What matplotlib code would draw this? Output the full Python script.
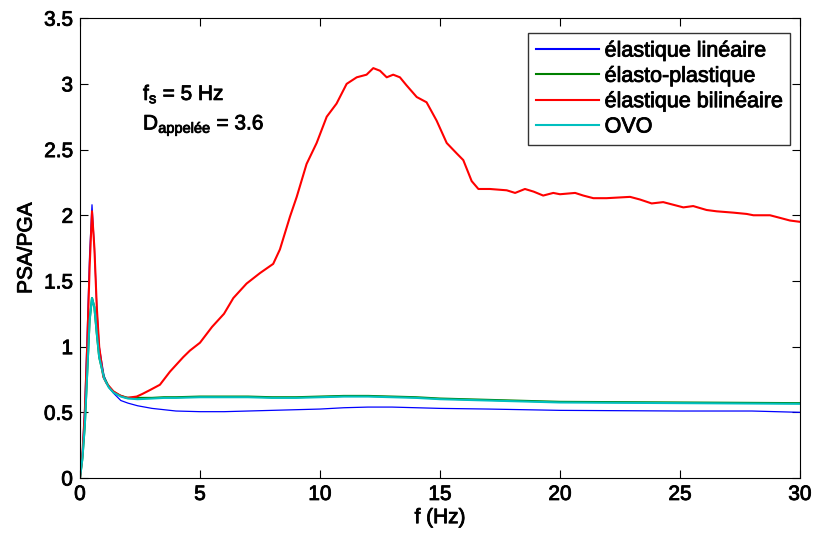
import matplotlib
matplotlib.use("Agg")
import matplotlib.pyplot as plt
import matplotlib.patheffects as pe

plt.rcParams['font.family'] = ['Liberation Sans', 'DejaVu Sans']
plt.rcParams['mathtext.fontset'] = 'custom'
plt.rcParams['mathtext.rm'] = 'Liberation Sans'
plt.rcParams['mathtext.it'] = 'Liberation Sans'

# frequencies (Hz)
f_blue = [0, 0.1, 0.2, 0.3, 0.4, 0.5, 0.6, 0.7, 0.8, 1.0, 1.2, 1.4, 1.7, 2.0, 2.4, 3.0, 3.5, 4, 5, 6, 7, 8, 9, 10, 11, 12, 13, 14, 15, 17, 20, 25, 28, 30]
psa_blue = [0, 0.2, 0.55, 1.1, 1.7, 2.08, 1.75, 1.3, 1.0, 0.78, 0.69, 0.645, 0.59, 0.57, 0.55, 0.53, 0.52, 0.51, 0.505, 0.505, 0.51, 0.515, 0.52, 0.525, 0.535, 0.54, 0.54, 0.535, 0.53, 0.525, 0.515, 0.51, 0.51, 0.50]

f_ovo = [0, 0.1, 0.2, 0.3, 0.4, 0.5, 0.6, 0.7, 0.8, 1.0, 1.2, 1.4, 1.7, 2.0, 2.4, 3.0, 3.5, 4, 5, 6, 7, 8, 9, 10, 11, 12, 13, 14, 15, 17, 20, 25, 30]
psa_ovo = [0, 0.15, 0.4, 0.8, 1.2, 1.37, 1.3, 1.1, 0.92, 0.76, 0.69, 0.65, 0.62, 0.605, 0.6, 0.605, 0.61, 0.61, 0.615, 0.615, 0.615, 0.61, 0.61, 0.615, 0.62, 0.62, 0.615, 0.61, 0.6, 0.59, 0.575, 0.57, 0.565]
psa_green = [0, 0.15, 0.4, 0.8, 1.2, 1.37, 1.3, 1.1, 0.92, 0.765, 0.695, 0.655, 0.625, 0.61, 0.61, 0.61, 0.615, 0.615, 0.62, 0.62, 0.62, 0.615, 0.615, 0.62, 0.625, 0.625, 0.62, 0.615, 0.605, 0.595, 0.58, 0.575, 0.57]

f_red = [0, 0.1, 0.2, 0.3, 0.4, 0.5, 0.6, 0.7, 0.8, 0.97, 1.11, 1.39, 1.65, 1.94, 2.36, 2.6, 2.92, 3.33, 3.75, 4.3, 4.58, 5.0, 5.5, 6.0, 6.39, 6.94, 7.5, 8.05, 8.33, 8.75, 9.03, 9.44, 9.86, 10.28, 10.69, 11.11, 11.53, 11.94, 12.22, 12.5, 12.78, 13.05, 13.33, 13.6, 14.03, 14.44, 14.86, 15.28, 15.7, 15.97, 16.32, 16.6, 17.08, 17.78, 18.13, 18.54, 18.9, 19.3, 19.72, 20.0, 20.63, 20.97, 21.39, 21.94, 22.92, 23.33, 23.82, 24.3, 24.72, 25.14, 25.55, 26.11, 26.53, 27.22, 27.78, 28.06, 28.75, 29.17, 29.58, 30.0]
psa_red = [0, 0.18, 0.5, 1.0, 1.6, 2.03, 1.75, 1.3, 1.0, 0.77, 0.72, 0.66, 0.63, 0.61, 0.62, 0.64, 0.67, 0.71, 0.81, 0.92, 0.97, 1.03, 1.15, 1.25, 1.37, 1.48, 1.56, 1.63, 1.74, 1.99, 2.14, 2.39, 2.55, 2.75, 2.85, 3.0, 3.05, 3.07, 3.12, 3.1, 3.05, 3.07, 3.05, 2.99, 2.9, 2.86, 2.72, 2.55, 2.47, 2.42, 2.26, 2.2, 2.2, 2.19, 2.17, 2.2, 2.18, 2.15, 2.17, 2.16, 2.17, 2.15, 2.13, 2.13, 2.14, 2.12, 2.09, 2.10, 2.08, 2.06, 2.07, 2.04, 2.03, 2.02, 2.01, 2.0, 2.0, 1.98, 1.96, 1.95]

labels = ['élastique linéaire', 'élasto-plastique', 'élastique bilinéaire', 'OVO']

FS = 15
thick = [pe.withStroke(linewidth=0.6, foreground='black')]

fig = plt.figure(figsize=(8.13, 5.35), dpi=100)
ax = fig.add_axes([0.0984, 0.1065, 0.8856, 0.8595])

ax.plot(f_blue, psa_blue, color='#0000ff', lw=0.9, label=labels[0])
ax.plot(f_ovo, psa_green, color='#008000', lw=1.5, label=labels[1])
ax.plot(f_red, psa_red, color='#ff0000', lw=1.5, label=labels[2])
ax.plot(f_ovo, psa_ovo, color='#00bfbf', lw=1.5, label=labels[3])

ax.set_xlim(0, 30)
ax.set_ylim(0, 3.5)
ax.set_xticks([0, 5, 10, 15, 20, 25, 30])
ax.set_yticks([0, 0.5, 1, 1.5, 2, 2.5, 3, 3.5])
ax.set_yticklabels(['0', '0.5', '1', '1.5', '2', '2.5', '3', '3.5'])
ax.tick_params(direction='in', top=True, right=True, labelsize=FS, length=6, pad=5)
for s in ax.spines.values():
    s.set_linewidth(0.8)
ax.set_xlabel('f (Hz)', fontsize=FS, labelpad=3)
ax.set_ylabel('PSA/PGA', fontsize=FS, labelpad=6)

ax.text(0.0875, 0.822, r'$\mathregular{f_s}$ = 5 Hz', transform=ax.transAxes,
        fontsize=FS, va='baseline')
ax.text(0.0875, 0.758, r'$\mathregular{D_{appelée}}$ = 3.6', transform=ax.transAxes,
        fontsize=FS, va='baseline')

leg = ax.legend(loc='upper right', bbox_to_anchor=(790 / 813, 1 - 33 / 535),
                bbox_transform=fig.transFigure, borderaxespad=0,
                fontsize=15.5, frameon=True, fancybox=False,
                edgecolor='black', handlelength=2.95, handletextpad=0.25,
                labelspacing=0.2, borderpad=0.35)
leg.get_frame().set_linewidth(1.0)
for h in leg.get_lines():
    h.set_linewidth(1.5)

texts = ax.get_xticklabels() + ax.get_yticklabels() + [ax.xaxis.label, ax.yaxis.label] + ax.texts + leg.get_texts()
for t in texts:
    t.set_path_effects(thick)

fig.savefig('out.png', dpi=100)
